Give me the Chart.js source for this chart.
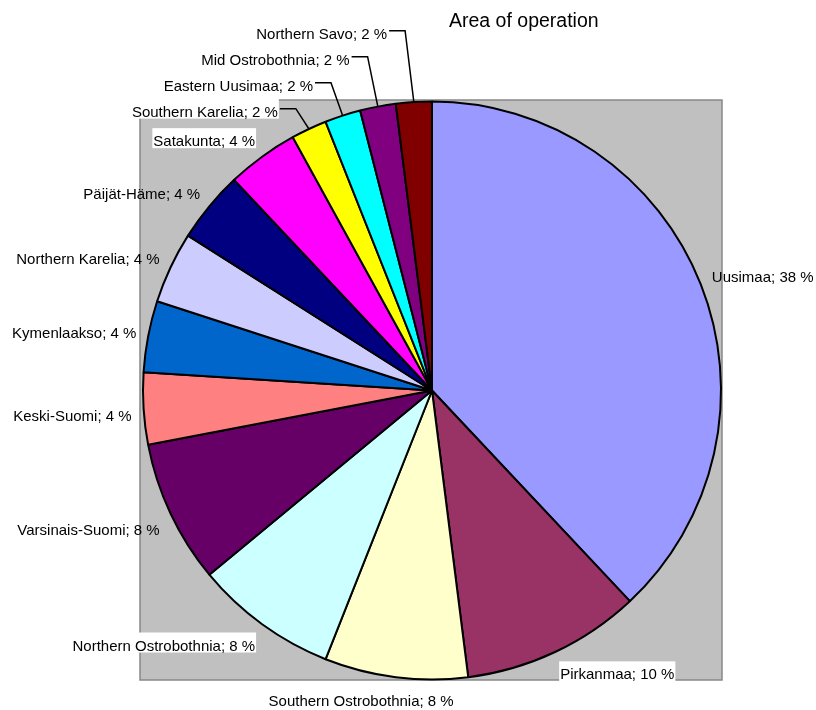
<!DOCTYPE html>
<html>
<head>
<meta charset="utf-8">
<title>Area of operation</title>
<script src="https://cdn.jsdelivr.net/npm/chart.js@4.4.1/dist/chart.umd.min.js"></script>
<style>
  body { margin: 0; background: #fff; }
  canvas { display: block; }
</style>
</head>
<body>
<canvas id="graficoAree" width="816" height="710"></canvas>
<script>
const titolo = "Area of operation";
const categorie = ["Uusimaa", "Pirkanmaa", "Southern Ostrobothnia", "Northern Ostrobothnia", "Varsinais-Suomi",
    "Keski-Suomi", "Kymenlaakso", "Northern Karelia", "Päijät-Häme", "Satakunta",
    "Southern Karelia", "Eastern Uusimaa", "Mid Ostrobothnia", "Northern Savo"];
const valori = [38, 10, 8, 8, 8, 4, 4, 4, 4, 4, 2, 2, 2, 2];
const colori = ["#9999FF", "#993366", "#FFFFCC", "#CCFFFF", "#660066",
    "#FF8080", "#0066CC", "#CCCCFF", "#000080", "#FF00FF",
    "#FFFF00", "#00FFFF", "#800080", "#800000"];
// Etichette che hanno il riquadro bianco dietro
const etichetteConSfondo = ["Pirkanmaa", "Northern Ostrobothnia", "Satakunta", "Southern Karelia"];

const FONT = "'Liberation Sans', Arial, sans-serif";

function testoEtichetta(i) {
    return categorie[i] + "; " + valori[i] + " %";
}

function limita(v, min, max) {
    return Math.max(min, Math.min(max, v));
}

// Riquadro grigio dietro la torta
const sfondoArea = {
    id: "sfondoArea",
    beforeDatasetsDraw(chart) {
        let ctx = chart.ctx;
        let a = chart.chartArea;
        let x = a.left - 2, y = a.top;
        let w = a.right - x, h = a.bottom - 1 - y;
        ctx.save();
        ctx.fillStyle = "#C0C0C0";
        ctx.fillRect(x, y, w, h);
        ctx.strokeStyle = "#888888";
        ctx.lineWidth = 1.5;
        ctx.strokeRect(x, y, w, h);
        ctx.restore();
    }
};

// Titolo in alto a destra
const titoloGrafico = {
    id: "titoloGrafico",
    afterDraw(chart) {
        let ctx = chart.ctx;
        ctx.save();
        ctx.font = "19.5px " + FONT;
        ctx.fillStyle = "#000";
        ctx.textAlign = "left";
        ctx.textBaseline = "alphabetic";
        ctx.fillText(titolo, 449, 27);
        ctx.restore();
    }
};

// Etichette "nome; valore %" fuori dalla torta, con linee guida per le fette piccole
const etichette = {
    id: "etichette",
    afterDatasetsDraw(chart) {
        let ctx = chart.ctx;
        let archi = chart.getDatasetMeta(0).data;
        ctx.save();
        ctx.font = "15px " + FONT;
        ctx.textAlign = "left";
        ctx.textBaseline = "alphabetic";
        ctx.strokeStyle = "#000";
        ctx.lineWidth = 1.5;
        let ultimaY = Infinity;

        archi.forEach((arco, i) => {
            let p = arco.getProps(["x", "y", "startAngle", "endAngle", "outerRadius"], true);
            let medio = (p.startAngle + p.endAngle) / 2;
            let dx = Math.cos(medio), dy = Math.sin(medio);
            let ax = p.x + (p.outerRadius + 12) * dx;
            let ay = p.y + (p.outerRadius + 12) * dy;
            let testo = testoEtichetta(i);
            let w = ctx.measureText(testo).width;

            let cx = ax + (w / 2) * limita(dx / 0.35, -1, 1);
            let cy = dy > 0 ? ay + 11.5 * Math.min(1, 0.45 + 2.5 * dy) : ay + 7.2 * dy;

            let conLinea = valori[i] <= 2; // fette piccole: etichetta impilata e linea guida
            if (conLinea) {
                cy = Math.min(cy, ultimaY - 26);
                cx = ax - 26 - w / 2;
            }
            ultimaY = cy;

            let sx = cx - w / 2;
            let base = cy + 5;
            if (etichetteConSfondo.includes(categorie[i])) {
                ctx.fillStyle = "#FFFFFF";
                ctx.fillRect(sx - 1, base - 18, w + 2, 20);
            }
            ctx.fillStyle = "#000";
            ctx.fillText(testo, sx, base);

            if (conLinea) {
                let lx = sx + w + 2, ly = cy - 3;
                ctx.beginPath();
                ctx.moveTo(lx, ly);
                ctx.lineTo(lx + 16, ly);
                ctx.lineTo(p.x + p.outerRadius * dx, p.y + p.outerRadius * dy);
                ctx.stroke();
            }
        });
        ctx.restore();
    }
};

new Chart(document.getElementById("graficoAree"), {
    type: "pie",
    data: {
        labels: categorie,
        datasets: [{
            data: valori,
            backgroundColor: colori,
            borderColor: "#000000",
            borderWidth: 2
        }]
    },
    options: {
        responsive: false,
        devicePixelRatio: 1,
        animation: false,
        layout: { padding: { left: 142, right: 94, top: 100, bottom: 29 } },
        plugins: {
            legend: { display: false },
            tooltip: { enabled: false }
        }
    },
    plugins: [sfondoArea, etichette, titoloGrafico]
});
</script>
</body>
</html>
